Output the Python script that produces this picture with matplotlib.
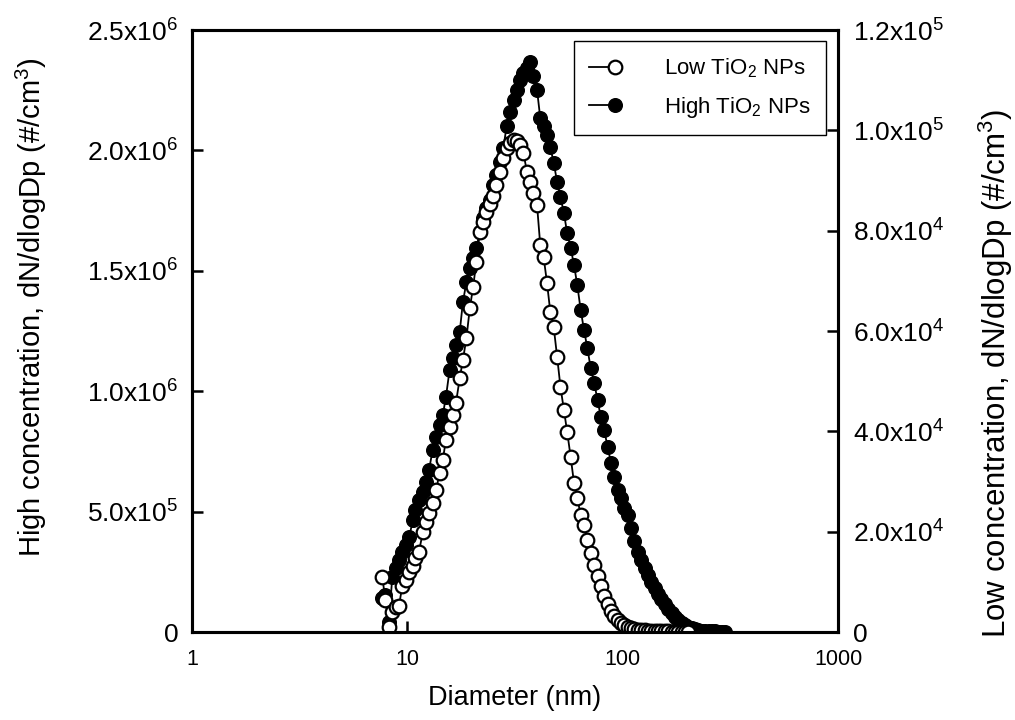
import numpy as np
import matplotlib
matplotlib.use('Agg')
import matplotlib.pyplot as plt
from matplotlib.legend_handler import HandlerLine2D

plt.rcParams['font.family'] = ['Liberation Sans', 'DejaVu Sans']
plt.rcParams['mathtext.default'] = 'regular'

# SMPS size bins (nm)
diam = [7.64, 7.91, 8.20, 8.51, 8.82, 9.14, 9.47, 9.82, 10.2, 10.6, 10.9, 11.3, 11.8,
        12.2, 12.6, 13.1, 13.6, 14.1, 14.6, 15.1, 15.7, 16.3, 16.8, 17.5, 18.1, 18.8,
        19.5, 20.2, 20.9, 21.7, 22.5, 23.3, 24.1, 25.0, 25.9, 26.9, 27.9, 28.9, 30.0,
        31.1, 32.2, 33.4, 34.6, 35.9, 37.2, 38.5, 40.0, 41.4, 42.9, 44.5, 46.1, 47.8,
        49.6, 51.4, 53.3, 55.2, 57.3, 59.4, 61.5, 63.8, 66.1, 68.5, 71.0, 73.7, 76.4,
        79.1, 82.0, 85.1, 88.2, 91.4, 94.7, 98.2, 101.8, 105.5, 109.4, 113.4, 117.6,
        121.9, 126.3, 131.0, 135.8, 140.7, 145.9, 151.2, 156.8, 162.5, 168.5, 174.7,
        181.1, 187.7, 194.6, 201.7, 209.1, 216.7, 224.7, 232.9, 241.4, 250.3, 259.5,
        269.0, 278.8, 289.0, 299.6]

# high TiO2 NPs, left axis (#/cm3)
high = [1.41e5, 1.54e5, 4.2e4, 2.28e5, 2.66e5, 2.99e5, 3.32e5, 3.61e5, 3.95e5, 4.65e5,
        5.07e5, 5.48e5, 5.81e5, 6.23e5, 6.73e5, 7.56e5, 8.10e5, 8.60e5, 9.01e5, 9.76e5,
        1.088e6, 1.138e6, 1.192e6, 1.246e6, 1.370e6, 1.453e6, 1.512e6, 1.553e6, 1.595e6,
        1.661e6, 1.719e6, 1.761e6, 1.794e6, 1.856e6, 1.898e6, 1.952e6, 2.010e6, 2.101e6,
        2.159e6, 2.209e6, 2.251e6, 2.292e6, 2.321e6, 2.342e6, 2.367e6, 2.309e6, 2.251e6,
        2.135e6, 2.101e6, 2.064e6, 2.014e6, 1.948e6, 1.869e6, 1.806e6, 1.740e6, 1.657e6,
        1.595e6, 1.524e6, 1.441e6, 1.337e6, 1.254e6, 1.179e6, 1.096e6, 1.034e6, 9.63e5,
        8.93e5, 8.39e5, 7.68e5, 7.02e5, 6.44e5, 5.90e5, 5.56e5, 5.15e5, 4.86e5, 4.32e5,
        3.78e5, 3.32e5, 2.99e5, 2.66e5, 2.37e5, 2.08e5, 1.83e5, 1.58e5, 1.37e5, 1.16e5,
        9.6e4, 7.9e4, 6.2e4, 5.0e4, 3.9e4, 2.9e4, 2.1e4, 1.7e4, 1.2e4, 8e3, 6e3, 5e3,
        4e3, 3e3, 2.5e3, 2e3, 1.5e3, 1e3]

# low TiO2 NPs, right axis (#/cm3)
low = [1.10e4, 6.4e3, 1.0e3, 4.0e3, 5.0e3, 5.2e3, 9.2e3, 1.04e4, 1.20e4, 1.32e4, 1.48e4,
       1.59e4, 1.99e4, 2.19e4, 2.37e4, 2.57e4, 2.83e4, 3.17e4, 3.43e4, 3.83e4, 4.09e4,
       4.33e4, 4.56e4, 5.06e4, 5.42e4, 5.86e4, 6.46e4, 6.88e4, 7.38e4, 7.97e4, 8.17e4,
       8.37e4, 8.53e4, 8.69e4, 8.91e4, 9.17e4, 9.45e4, 9.65e4, 9.75e4, 9.81e4, 9.79e4,
       9.71e4, 9.55e4, 9.17e4, 8.97e4, 8.75e4, 8.51e4, 7.71e4, 7.48e4, 6.96e4, 6.38e4,
       6.08e4, 5.48e4, 4.88e4, 4.43e4, 3.99e4, 3.49e4, 2.97e4, 2.67e4, 2.33e4, 2.13e4,
       1.83e4, 1.57e4, 1.34e4, 1.12e4, 9.2e3, 7.2e3, 5.6e3, 4.2e3, 3.2e3, 2.4e3, 1.8e3,
       1.3e3, 1.0e3, 8e2, 6e2, 5e2, 4e2, 350, 300, 300, 250, 200, 200, 150, 150, 100, 100,
       100, 50, 50, 50]

left_ticks = [0, 5e5, 1e6, 1.5e6, 2e6, 2.5e6]
left_labels = ['0', '5.0x10$^5$', '1.0x10$^6$', '1.5x10$^6$', '2.0x10$^6$', '2.5x10$^6$']
right_ticks = [0, 2e4, 4e4, 6e4, 8e4, 1e5, 1.2e5]
right_labels = ['0', '2.0x10$^4$', '4.0x10$^4$', '6.0x10$^4$', '8.0x10$^4$',
                '1.0x10$^5$', '1.2x10$^5$']
x_ticks = [1, 10, 100, 1000]


class EndMarker(HandlerLine2D):
    # marker at the right end of the legend line
    def create_artists(self, *args, **kw):
        arts = super().create_artists(*args, **kw)
        arts[0].set_markevery([2])
        return arts


fig = plt.figure(figsize=(10.15, 7.2), dpi=100)
ax = fig.add_axes([0.1892, 0.1222, 0.6365, 0.8361])
ax2 = ax.twinx()

h2, = ax.plot(diam, high, '-o', color='black', lw=1.3, ms=9.8,
              mfc='black', mec='black', mew=1.0, label='High TiO$_2$ NPs')
h1, = ax2.plot(diam[:len(low)], low, '-o', color='black', lw=1.3, ms=9.8,
               mfc='white', mec='black', mew=1.6, label='Low TiO$_2$ NPs')

ax.set_xscale('log')
ax.set_xlim(1, 1000)
ax.set_ylim(0, 2.5e6)
ax2.set_ylim(0, 1.2e5)
ax.set_xticks(x_ticks)
ax.set_xticklabels(['1', '10', '100', '1000'])
ax.xaxis.set_minor_locator(plt.NullLocator())
ax.set_yticks(left_ticks)
ax.set_yticklabels(left_labels)
ax2.set_yticks(right_ticks)
ax2.set_yticklabels(right_labels)

for a in (ax, ax2):
    a.tick_params(direction='in', length=8, width=1.8, labelsize=19, pad=10)
    for s in a.spines.values():
        s.set_linewidth(2.2)
ax.tick_params(axis='x', labelsize=15.5, pad=12)
ax2.tick_params(axis='y', pad=11)

ax.set_xlabel('Diameter (nm)', fontsize=19.5)
ax.xaxis.set_label_coords(0.5, -0.088)
ax.set_ylabel('High concentration, dN/dlogDp (#/cm$^3$)', fontsize=21)
ax.yaxis.set_label_coords(-0.222, 0.54)
ax2.set_ylabel('Low concentration, dN/dlogDp (#/cm$^3$)', fontsize=22.5)
ax2.yaxis.set_label_coords(1.215, 0.43)

leg = ax2.legend(handles=[h1, h2], loc='upper right', fontsize=16, numpoints=1,
                 handlelength=1.15, handletextpad=2.2, fancybox=False,
                 edgecolor='black', framealpha=1, borderpad=0.7, labelspacing=0.65,
                 bbox_to_anchor=(0.9814, 0.9817), borderaxespad=0,
                 handler_map={h1: EndMarker(numpoints=1), h2: EndMarker(numpoints=1)})
leg.get_frame().set_linewidth(1.0)

fig.savefig('out.png', dpi=100)
